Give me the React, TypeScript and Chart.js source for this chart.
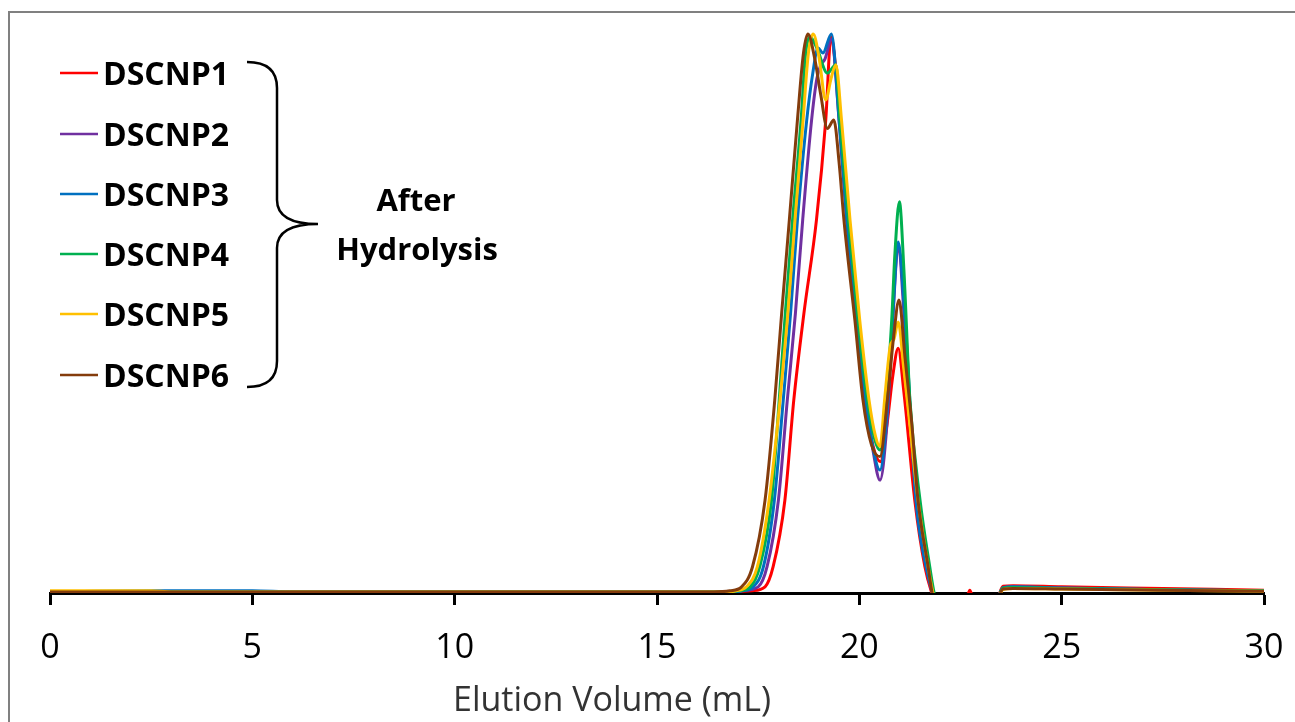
import React, { useEffect, useRef } from "react";
import { Chart, registerables } from "chart.js";

Chart.register(...registerables);

const seriesNames = ["DSCNP1", "DSCNP2", "DSCNP3", "DSCNP4", "DSCNP5", "DSCNP6"];
const seriesColors = ["#FF0000", "#7030A0", "#0070C0", "#00B050", "#FFC000", "#843C0C"];
const xTicks = [0, 5, 10, 15, 20, 25, 30];
const noteLines = ["After", "Hydrolysis"];
const axisTitle = "Elution Volume (mL)";

const dscnp1X = [0, 5, 10, 15, 16.5, 17.1, 17.35, 17.67, 17.87, 18.16, 18.38, 18.63, 18.94, 19.17, 19.3, 19.4, 19.52, 19.7, 19.93, 20.15, 20.35, 20.52, 20.68, 20.83, 20.96, 21.1, 21.37, 21.62, 21.79, 21.9, 22.6, 22.73, 22.86, 23.35, 23.55, 23.8, 25, 27.5, 30];
const dscnp1Y = [0.002, 0.002, 0.002, 0.002, 0.002, 0.003, 0.004, 0.011, 0.047, 0.166, 0.345, 0.5, 0.667, 0.846, 0.995, 0.95, 0.84, 0.667, 0.488, 0.345, 0.26, 0.235, 0.3, 0.39, 0.438, 0.36, 0.166, 0.047, 0, -0.02, -0.02, 0.005, -0.02, -0.02, 0.012, 0.013, 0.011, 0.008, 0.005];

const dscnp2X = [0, 15, 16.8, 17.1, 17.5, 17.72, 18.0, 18.22, 18.42, 18.6, 18.82, 18.95, 19.05, 19.15, 19.31, 19.5, 19.69, 19.93, 20.16, 20.35, 20.51, 20.68, 20.82, 20.96, 21.12, 21.4, 21.65, 21.8, 21.9, 23.35, 23.55, 23.8, 25, 27.5, 30];
const dscnp2Y = [0.002, 0.002, 0.002, 0.004, 0.011, 0.047, 0.166, 0.345, 0.5, 0.667, 0.846, 0.92, 0.945, 0.955, 0.99, 0.846, 0.667, 0.488, 0.345, 0.25, 0.202, 0.3, 0.48, 0.62, 0.48, 0.166, 0.047, 0, -0.02, -0.02, 0.01, 0.011, 0.009, 0.006, 0.004];

const dscnp3X = [0, 2.5, 5, 6, 15, 16.9, 17.1, 17.38, 17.63, 17.9, 18.12, 18.3, 18.47, 18.7, 18.85, 18.98, 19.1, 19.31, 19.5, 19.69, 19.93, 20.16, 20.35, 20.51, 20.68, 20.83, 20.96, 21.12, 21.4, 21.65, 21.82, 21.92, 23.35, 23.55, 23.8, 25, 27.5, 30];
const dscnp3Y = [0.002, 0.004, 0.004, 0.002, 0.002, 0.002, 0.004, 0.011, 0.047, 0.166, 0.345, 0.5, 0.667, 0.846, 0.93, 0.975, 0.966, 1.0, 0.846, 0.667, 0.488, 0.345, 0.255, 0.22, 0.32, 0.5, 0.628, 0.5, 0.166, 0.047, 0, -0.02, -0.02, 0.009, 0.011, 0.009, 0.006, 0.004];

const dscnp4X = [0, 15, 16.7, 17.0, 17.3, 17.54, 17.83, 18.02, 18.17, 18.35, 18.56, 18.67, 18.78, 18.95, 19.21, 19.42, 19.52, 19.73, 19.97, 20.2, 20.38, 20.51, 20.65, 20.8, 20.88, 20.99, 21.1, 21.25, 21.5, 21.74, 21.85, 21.95, 23.35, 23.55, 23.8, 25, 27.5, 30];
const dscnp4Y = [0.002, 0.002, 0.002, 0.004, 0.011, 0.047, 0.166, 0.345, 0.5, 0.667, 0.846, 0.963, 0.995, 0.975, 0.93, 0.945, 0.846, 0.667, 0.488, 0.345, 0.275, 0.256, 0.33, 0.488, 0.608, 0.7, 0.58, 0.345, 0.166, 0.047, 0, -0.02, -0.02, 0.009, 0.01, 0.008, 0.006, 0.004];

const dscnp5X = [0, 2.5, 3, 15, 16.7, 16.95, 17.21, 17.48, 17.77, 18.04, 18.22, 18.41, 18.61, 18.74, 18.86, 19.0, 19.17, 19.3, 19.42, 19.56, 19.77, 20.01, 20.24, 20.4, 20.51, 20.63, 20.76, 20.86, 20.96, 21.1, 21.25, 21.45, 21.7, 21.82, 21.92, 23.35, 23.55, 23.8, 25, 27.5, 30];
const dscnp5Y = [0.004, 0.004, 0.002, 0.002, 0.002, 0.004, 0.011, 0.047, 0.166, 0.345, 0.488, 0.667, 0.846, 0.965, 1.0, 0.96, 0.882, 0.92, 0.945, 0.846, 0.667, 0.488, 0.345, 0.28, 0.262, 0.35, 0.44, 0.455, 0.485, 0.4, 0.3, 0.166, 0.047, 0, -0.02, -0.02, 0.006, 0.008, 0.007, 0.005, 0.003];

const dscnp6X = [0, 15, 16.4, 16.8, 17.09, 17.36, 17.67, 17.91, 18.08, 18.27, 18.47, 18.62, 18.73, 18.9, 19.05, 19.21, 19.37, 19.5, 19.62, 19.89, 20.09, 20.3, 20.51, 20.7, 20.85, 20.98, 21.13, 21.3, 21.45, 21.7, 21.8, 21.9, 23.35, 23.55, 23.8, 25, 27.5, 30];
const dscnp6Y = [0.002, 0.002, 0.002, 0.004, 0.011, 0.047, 0.166, 0.345, 0.5, 0.667, 0.846, 0.966, 1.0, 0.955, 0.89, 0.831, 0.846, 0.77, 0.667, 0.488, 0.345, 0.265, 0.244, 0.35, 0.46, 0.524, 0.42, 0.3, 0.166, 0.047, 0, -0.02, -0.02, 0.007, 0.008, 0.007, 0.005, 0.003];

const seriesX = [dscnp1X, dscnp2X, dscnp3X, dscnp4X, dscnp5X, dscnp6X];
const seriesY = [dscnp1Y, dscnp2Y, dscnp3Y, dscnp4Y, dscnp5Y, dscnp6Y];

const overlayPlugin = {
  id: "overlay",
  afterDraw(chart: any) {
    const ctx = chart.ctx as CanvasRenderingContext2D;
    ctx.save();
    ctx.strokeStyle = "#808080";
    ctx.lineWidth = 2;
    ctx.strokeRect(9, 12, 1400, 900);

    const rowY = [73, 134, 194, 254, 314, 375];
    seriesNames.forEach((name, i) => {
      ctx.strokeStyle = seriesColors[i];
      ctx.lineWidth = 2.5;
      ctx.beginPath();
      ctx.moveTo(60, rowY[i]);
      ctx.lineTo(98, rowY[i]);
      ctx.stroke();
      ctx.fillStyle = "#000";
      ctx.font = 'bold 32px "Open Sans"';
      ctx.textAlign = "left";
      ctx.textBaseline = "alphabetic";
      ctx.fillText(name, 103, rowY[i] + 12);
    });

    ctx.strokeStyle = "#000";
    ctx.lineWidth = 2.5;
    ctx.beginPath();
    ctx.moveTo(247, 62);
    ctx.quadraticCurveTo(277, 62, 277, 88);
    ctx.lineTo(277, 200);
    ctx.quadraticCurveTo(277, 224, 318, 224);
    ctx.moveTo(318, 224);
    ctx.quadraticCurveTo(277, 224, 277, 248);
    ctx.lineTo(277, 361);
    ctx.quadraticCurveTo(277, 387, 247, 387);
    ctx.stroke();

    ctx.fillStyle = "#000";
    ctx.font = 'bold 31px "Open Sans"';
    ctx.textAlign = "center";
    ctx.fillText(noteLines[0], 416, 211);
    ctx.fillText(noteLines[1], 417, 260);

    ctx.fillStyle = "#333";
    ctx.font = '34px "Open Sans"';
    ctx.textAlign = "center";
    ctx.textBaseline = "middle";
    ctx.fillText(axisTitle, 612, 701);
    ctx.restore();
  },
};

export default function App() {
  const ref = useRef<HTMLCanvasElement | null>(null);
  useEffect(() => {
    if (!ref.current) return;
    const chart = new Chart(ref.current, {
      type: "line",
      data: {
        datasets: seriesNames.map((name, i) => ({
          label: name,
          data: seriesX[i].map((x, j) => ({ x, y: seriesY[i][j] })),
          borderColor: seriesColors[i],
          backgroundColor: seriesColors[i],
          borderWidth: 3,
          pointRadius: 0,
          fill: false,
          cubicInterpolationMode: "monotone" as const,
          order: 6 - i,
          clip: { left: 0, top: 10, right: 0, bottom: 0 },
        })),
      },
      options: {
        responsive: false,
        animation: false,
        layout: { padding: { left: 50, right: 31, top: 34, bottom: 0 } },
        plugins: { legend: { display: false }, tooltip: { enabled: false } },
        scales: {
          x: {
            type: "linear",
            min: 0,
            max: 30,
            afterBuildTicks: (axis: any) => {
              axis.ticks = xTicks.map((v) => ({ value: v }));
            },
            afterFit: (axis: any) => {
              axis.height = 129;
              axis.paddingLeft = 0;
              axis.paddingRight = 0;
            },
            ticks: {
              color: "#000",
              padding: 23,
              maxRotation: 0,
              font: { family: '"Open Sans"', size: 34 },
            },
            grid: {
              display: true,
              drawOnChartArea: false,
              drawTicks: true,
              tickLength: 12,
              tickWidth: 3,
              tickColor: "#000",
            },
            border: { display: true, color: "#000", width: 3 },
            title: { display: false, text: axisTitle },
          },
          y: { display: false, min: 0, max: 1 },
        },
      },
      plugins: [overlayPlugin],
    });
    return () => chart.destroy();
  }, []);
  return (
    <div style={{ position: "absolute", left: 0, top: 0, width: 1295, height: 722, background: "#fff" }}>
      <canvas ref={ref} width={1295} height={722} />
    </div>
  );
}
